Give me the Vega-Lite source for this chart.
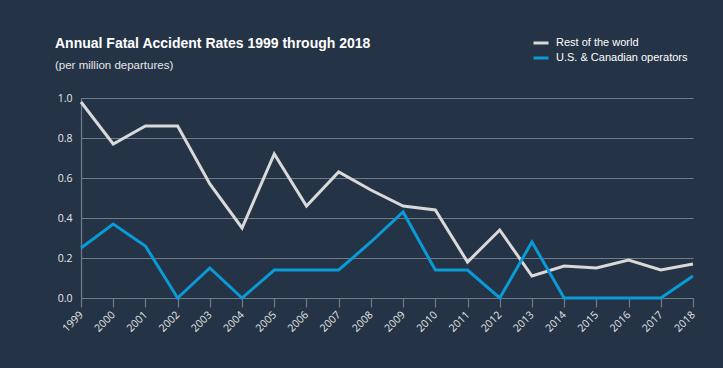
{
  "$schema": "https://vega.github.io/schema/vega-lite/v6.json",
  "width": 612,
  "height": 200,
  "autosize": {"type": "none"},
  "padding": {"left": 81, "top": 98, "right": 30, "bottom": 70},
  "background": "#243346",
  "title": {
    "text": "Annual Fatal  Accident Rates 1999  through 2018",
    "subtitle": "(per million departures)",
    "anchor": "start",
    "frame": "group",
    "dx": -26,
    "dy": 63,
    "offset": 26,
    "font": "Liberation Sans",
    "fontSize": 14,
    "fontWeight": "bold",
    "color": "#ffffff",
    "subtitleFont": "Liberation Sans",
    "subtitleFontSize": 11.5,
    "subtitleColor": "#e6e6e6",
    "subtitlePadding": 9
  },
  "config": {
    "view": {"stroke": null},
    "axis": {
      "labelColor": "#e6e6e6",
      "labelFont": "Open Sans",
      "labelFontSize": 10.5,
      "domainColor": "#6f7b89",
      "tickColor": "#6f7b89",
      "gridColor": "#6f7b89",
      "gridWidth": 1,
      "domainWidth": 1.2,
      "title": null
    }
  },
  "data": {
    "values": [
      {"year": 1999, "series": "Rest of the world", "rate": 0.98},
      {"year": 2000, "series": "Rest of the world", "rate": 0.77},
      {"year": 2001, "series": "Rest of the world", "rate": 0.86},
      {"year": 2002, "series": "Rest of the world", "rate": 0.86},
      {"year": 2003, "series": "Rest of the world", "rate": 0.57},
      {"year": 2004, "series": "Rest of the world", "rate": 0.35},
      {"year": 2005, "series": "Rest of the world", "rate": 0.72},
      {"year": 2006, "series": "Rest of the world", "rate": 0.46},
      {"year": 2007, "series": "Rest of the world", "rate": 0.63},
      {"year": 2008, "series": "Rest of the world", "rate": 0.54},
      {"year": 2009, "series": "Rest of the world", "rate": 0.46},
      {"year": 2010, "series": "Rest of the world", "rate": 0.44},
      {"year": 2011, "series": "Rest of the world", "rate": 0.18},
      {"year": 2012, "series": "Rest of the world", "rate": 0.34},
      {"year": 2013, "series": "Rest of the world", "rate": 0.11},
      {"year": 2014, "series": "Rest of the world", "rate": 0.16},
      {"year": 2015, "series": "Rest of the world", "rate": 0.15},
      {"year": 2016, "series": "Rest of the world", "rate": 0.19},
      {"year": 2017, "series": "Rest of the world", "rate": 0.14},
      {"year": 2018, "series": "Rest of the world", "rate": 0.17},
      {"year": 1999, "series": "U.S. & Canadian operators", "rate": 0.25},
      {"year": 2000, "series": "U.S. & Canadian operators", "rate": 0.37},
      {"year": 2001, "series": "U.S. & Canadian operators", "rate": 0.26},
      {"year": 2002, "series": "U.S. & Canadian operators", "rate": 0.0},
      {"year": 2003, "series": "U.S. & Canadian operators", "rate": 0.15},
      {"year": 2004, "series": "U.S. & Canadian operators", "rate": 0.0},
      {"year": 2005, "series": "U.S. & Canadian operators", "rate": 0.14},
      {"year": 2006, "series": "U.S. & Canadian operators", "rate": 0.14},
      {"year": 2007, "series": "U.S. & Canadian operators", "rate": 0.14},
      {"year": 2008, "series": "U.S. & Canadian operators", "rate": 0.28},
      {"year": 2009, "series": "U.S. & Canadian operators", "rate": 0.43},
      {"year": 2010, "series": "U.S. & Canadian operators", "rate": 0.14},
      {"year": 2011, "series": "U.S. & Canadian operators", "rate": 0.14},
      {"year": 2012, "series": "U.S. & Canadian operators", "rate": 0.0},
      {"year": 2013, "series": "U.S. & Canadian operators", "rate": 0.28},
      {"year": 2014, "series": "U.S. & Canadian operators", "rate": 0.0},
      {"year": 2015, "series": "U.S. & Canadian operators", "rate": 0.0},
      {"year": 2016, "series": "U.S. & Canadian operators", "rate": 0.0},
      {"year": 2017, "series": "U.S. & Canadian operators", "rate": 0.0},
      {"year": 2018, "series": "U.S. & Canadian operators", "rate": 0.11}
    ]
  },
  "mark": {"type": "line", "strokeWidth": 3, "strokeJoin": "miter", "clip": false},
  "encoding": {
    "x": {
      "field": "year",
      "type": "quantitative",
      "scale": {"domain": [1999, 2018], "nice": false, "zero": false},
      "axis": {
        "values": [1999, 2000, 2001, 2002, 2003, 2004, 2005, 2006, 2007, 2008, 2009, 2010, 2011, 2012, 2013, 2014, 2015, 2016, 2017, 2018],
        "format": "d",
        "grid": false,
        "labelAngle": -45,
        "labelAlign": "right",
        "labelBaseline": "middle",
        "tickSize": 9,
        "tickWidth": 1.2,
        "labelPadding": 6,
        "labelFlush": false,
        "labelOverlap": false
      }
    },
    "y": {
      "field": "rate",
      "type": "quantitative",
      "scale": {"domain": [0, 1], "nice": false},
      "axis": {
        "values": [0, 0.2, 0.4, 0.6, 0.8, 1.0],
        "format": ".1f",
        "grid": true,
        "ticks": false,
        "labelFontSize": 10.5,
        "labelPadding": 9,
        "labelFlush": false
      }
    },
    "color": {
      "field": "series",
      "type": "nominal",
      "scale": {"domain": ["Rest of the world", "U.S. & Canadian operators"], "range": ["#d9d9d9", "#0a9ad6"]},
      "legend": {
        "title": null,
        "orient": "none",
        "legendX": 451,
        "legendY": -64,
        "symbolType": "stroke",
        "symbolStrokeWidth": 3,
        "symbolSize": 225,
        "labelColor": "#ffffff",
        "labelFont": "Liberation Sans",
        "labelFontSize": 11,
        "rowPadding": 0,
        "labelOffset": 6
      }
    }
  }
}
